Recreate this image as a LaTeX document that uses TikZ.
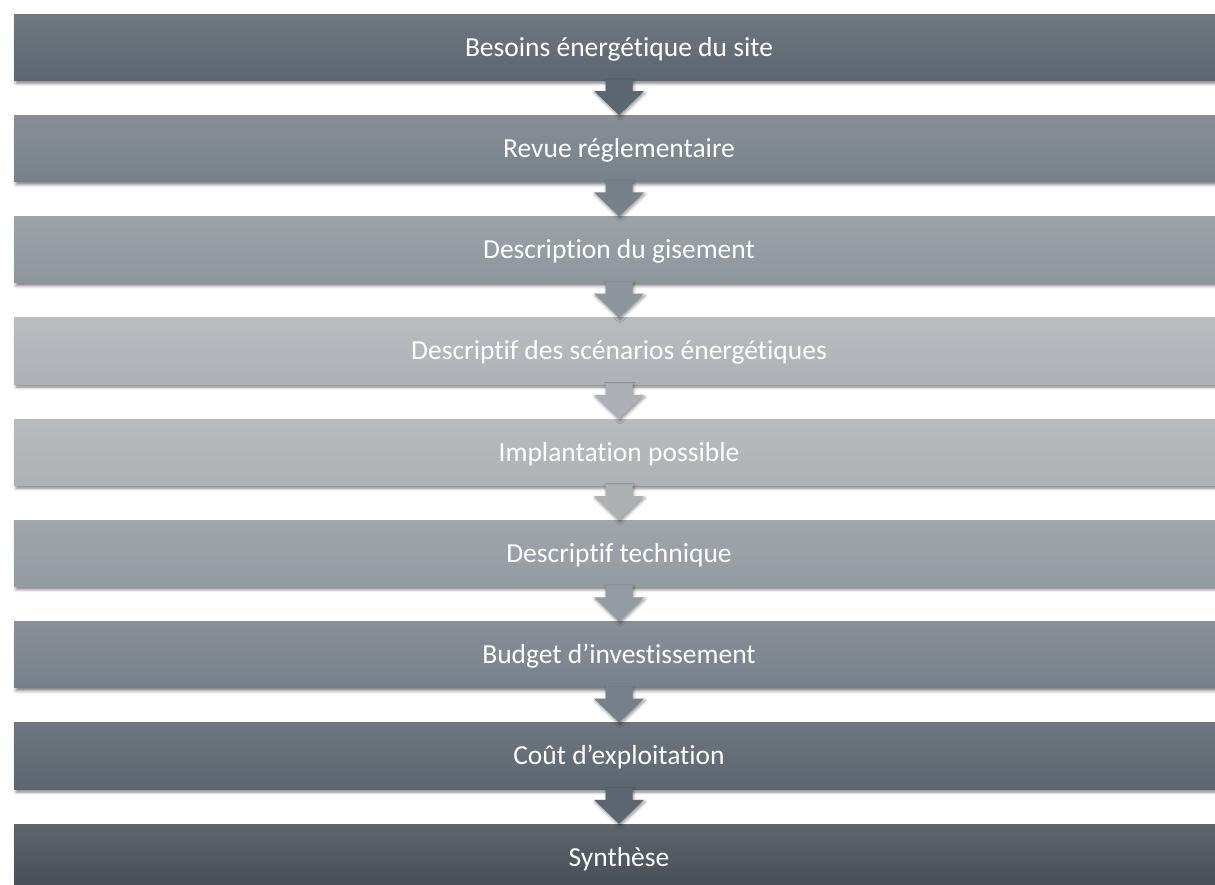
\documentclass[tikz,border=0pt]{standalone}
\usepackage{fontspec}
\newfontfamily\barfont[RawFeature=-liga]{Carlito}
\usetikzlibrary{shadows.blur,calc}

% top / bottom shades of the nine process bars
\definecolor{bA1}{HTML}{70777F}\definecolor{bA2}{HTML}{5C6670}
\definecolor{bB1}{HTML}{888E96}\definecolor{bB2}{HTML}{78818A}
\definecolor{bC1}{HTML}{9EA3A8}\definecolor{bC2}{HTML}{8E959D}
\definecolor{bD1}{HTML}{BABDC0}\definecolor{bD2}{HTML}{ADB0B4}
\definecolor{bE1}{HTML}{B9BCBF}\definecolor{bE2}{HTML}{AEB1B4}
\definecolor{bF1}{HTML}{A1A5A9}\definecolor{bF2}{HTML}{949BA3}
\definecolor{bG1}{HTML}{898F97}\definecolor{bG2}{HTML}{77808A}
\definecolor{bH1}{HTML}{6E757E}\definecolor{bH2}{HTML}{5D6670}
\definecolor{bI1}{HTML}{60656D}\definecolor{bI2}{HTML}{464C53}

% down arrow joining the bottom of one bar to the top of the next
\newcommand\flowarrow[3]{%
  \fill[#3, flowshadow]
    ($(#1.south)+(-13.5,-1)$) -- ($(#1.south)+(13.5,-1)$)
    -- ($(#1.south)+(13.5,10.5)$) -- ($(#1.south)+(25,10.5)$)
    -- (#2.north)
    -- ($(#1.south)+(-25,10.5)$) -- ($(#1.south)+(-13.5,10.5)$) -- cycle;}

\begin{document}
\begin{tikzpicture}[x=1pt,y=-1pt,
  stepbar/.style={minimum width=1210pt, minimum height=66.3pt, inner sep=0pt,
    text=white, font=\barfont\fontsize{27.5}{30}\selectfont,
    text height=18pt, text depth=0pt,
    blur shadow={shadow xshift=2pt, shadow yshift=-3pt,
      shadow blur radius=3pt, shadow opacity=50}},
  flowshadow/.style={blur shadow={shadow xshift=1pt, shadow yshift=-2pt,
      shadow blur radius=3pt, shadow opacity=45}}]
\path[use as bounding box, clip] (0,0) rectangle (1215,884);

\node[stepbar, top color=bA1, bottom color=bA2] (b1) at (619,47.15)  {Besoins énergétique du site};
\node[stepbar, top color=bB1, bottom color=bB2] (b2) at (619,148.4)  {Revue réglementaire};
\node[stepbar, top color=bC1, bottom color=bC2] (b3) at (619,249.65) {Description du gisement};
\node[stepbar, top color=bD1, bottom color=bD2] (b4) at (619,350.9)  {Descriptif des scénarios énergétiques};
\node[stepbar, top color=bE1, bottom color=bE2] (b5) at (619,452.15) {Implantation possible};
\node[stepbar, top color=bF1, bottom color=bF2] (b6) at (619,553.4)  {Descriptif technique};
\node[stepbar, top color=bG1, bottom color=bG2] (b7) at (619,654.65) {Budget d’investissement};
\node[stepbar, top color=bH1, bottom color=bH2] (b8) at (619,755.9)  {Coût d’exploitation};
\node[stepbar, top color=bI1, bottom color=bI2] (b9) at (619,857.15) {Synthèse};

\flowarrow{b1}{b2}{bA2}
\flowarrow{b2}{b3}{bB2}
\flowarrow{b3}{b4}{bC2}
\flowarrow{b4}{b5}{bD2}
\flowarrow{b5}{b6}{bE2}
\flowarrow{b6}{b7}{bF2}
\flowarrow{b7}{b8}{bG2}
\flowarrow{b8}{b9}{bH2}
\end{tikzpicture}
\end{document}
